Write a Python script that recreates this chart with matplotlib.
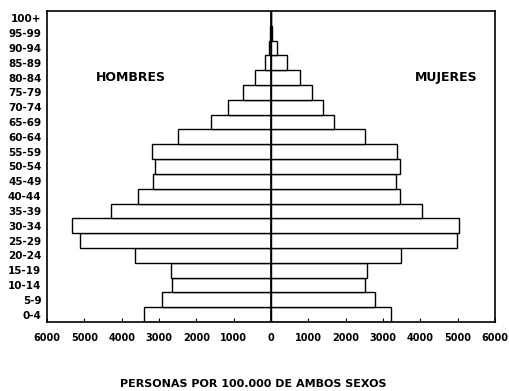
import numpy as np
import matplotlib.pyplot as plt

# Age groups, bottom to top
ages = ['0-4', '5-9', '10-14', '15-19', '20-24', '25-29', '30-34', '35-39',
        '40-44', '45-49', '50-54', '55-59', '60-64', '65-69', '70-74',
        '75-79', '80-84', '85-89', '90-94', '95-99', '100+']

# Persons per 100,000 of both sexes
hombres = [3410, 2920, 2650, 2680, 3630, 5110, 5330, 4280, 3550, 3150,
           3120, 3200, 2490, 1620, 1150, 760, 420, 150, 60, 15, 0]
mujeres = [3220, 2780, 2530, 2580, 3470, 4970, 5040, 4040, 3450, 3360,
           3450, 3380, 2530, 1700, 1400, 1100, 790, 430, 170, 25, 0]

xticks = [-6000, -5000, -4000, -3000, -2000, -1000, 0,
          1000, 2000, 3000, 4000, 5000, 6000]

fig = plt.figure(figsize=(5.09, 3.91), dpi=100)
ax = fig.add_axes([0.0923, 0.1765, 0.8802, 0.7954])

y = np.arange(len(ages))
ax.barh(y, [-v for v in hombres], height=1.0, color='white',
        edgecolor='black', linewidth=1.0)
ax.barh(y, mujeres, height=1.0, color='white',
        edgecolor='black', linewidth=1.0)
ax.axvline(0, color='black', linewidth=1.2)

ax.set_xlim(-6000, 6000)
ax.set_ylim(-0.5, len(ages) - 0.5)

ax.set_yticks(y)
ax.set_yticklabels(ages, fontsize=7.5, fontweight='bold')
ax.set_xticks(xticks)
ax.set_xticklabels([str(abs(t)) for t in xticks], fontsize=7, fontweight='bold')
ax.tick_params(axis='x', direction='in', length=3, pad=8)
ax.tick_params(axis='y', length=0, pad=4)

for s in ax.spines.values():
    s.set_linewidth(1.2)

ax.text(-3750, 16, 'HOMBRES', fontsize=9, fontweight='bold',
        ha='center', va='center')
ax.text(4700, 16, 'MUJERES', fontsize=9, fontweight='bold',
        ha='center', va='center')

fig.text(0.498, 0.018, 'PERSONAS POR 100.000 DE AMBOS SEXOS', fontsize=8,
         fontweight='bold', ha='center', va='center')

fig.savefig('out.png', dpi=100)
